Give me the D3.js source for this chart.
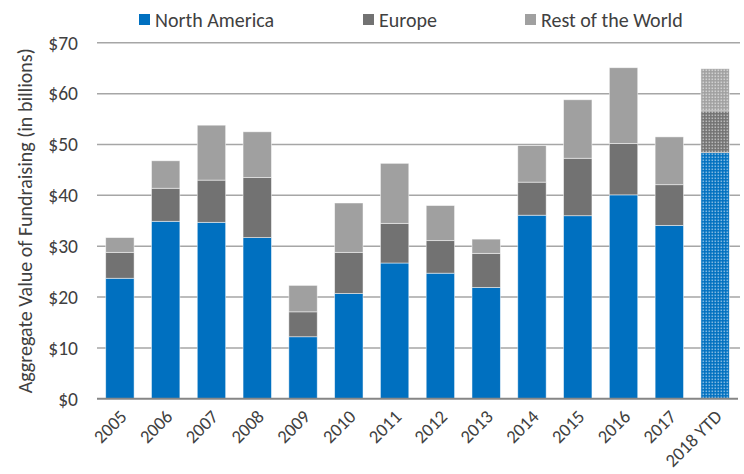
<!DOCTYPE html>
<html>
<head>
<meta charset="utf-8">
<script src="https://cdn.jsdelivr.net/npm/d3@7"></script>
<style>
  html, body { margin: 0; padding: 0; background: #fff; }
  svg { display: block; font-family: Carlito, Calibri, Lato, "Noto Sans", sans-serif; }
</style>
</head>
<body>
<svg id="chart" width="744" height="474"></svg>
<script>
// Aggregate fundraising by region, billions of USD
const years = ["2005", "2006", "2007", "2008", "2009", "2010", "2011", "2012", "2013",
               "2014", "2015", "2016", "2017", "2018 YTD"];
const northAmerica = [23.7, 34.9, 34.7, 31.7, 12.2, 20.7, 26.7, 24.7, 21.9, 36.1, 36.0, 40.1, 34.1, 48.4];
const europe       = [5.1, 6.5, 8.3, 11.8, 4.9, 8.1, 7.8, 6.4, 6.7, 6.5, 11.3, 10.1, 8.0, 8.2];
const restOfWorld  = [2.9, 5.4, 10.8, 9.0, 5.2, 9.7, 11.8, 6.9, 2.8, 7.2, 11.5, 14.9, 9.4, 8.3];
const seriesNames  = ["North America", "Europe", "Rest of the World"];
const seriesColors = ["#0070C0", "#727272", "#A0A0A0"];
const yTicks = [0, 10, 20, 30, 40, 50, 60, 70];
const partialYear = "2018 YTD";

const svg = d3.select("#chart");
const plotLeft = 97, plotRight = 738, plotTop = 42.8, plotBottom = 398.8;
const textColor = "#404040";

const rows = years.map((yr, i) => ({
  year: yr,
  "North America": northAmerica[i],
  "Europe": europe[i],
  "Rest of the World": restOfWorld[i]
}));
const stacked = d3.stack().keys(seriesNames)(rows);

const x = d3.scaleBand().domain(years).range([plotLeft, plotRight]).paddingInner(0.38).paddingOuter(0.19);
const y = d3.scaleLinear().domain([0, 70]).range([plotBottom, plotTop]);
const color = d3.scaleOrdinal().domain(seriesNames).range(seriesColors);

// dotted fill patterns for the year-to-date bar
const defs = svg.append("defs");
seriesNames.forEach((name, i) => {
  const p = defs.append("pattern")
    .attr("id", "dots" + i)
    .attr("patternUnits", "userSpaceOnUse")
    .attr("width", 3).attr("height", 3);
  p.append("rect").attr("width", 3).attr("height", 3).attr("fill", seriesColors[i]);
  p.append("rect").attr("x", 0.5).attr("y", 0.5).attr("width", 1.6).attr("height", 1.6)
    .attr("fill", "#fff").attr("opacity", 0.5);
});

// gridlines
svg.append("g")
  .selectAll("line")
  .data(yTicks.filter(t => t > 0))
  .join("line")
  .attr("x1", plotLeft).attr("x2", 740)
  .attr("y1", d => y(d)).attr("y2", d => y(d))
  .attr("stroke", "#A6A6A6").attr("stroke-width", 1.5);

// y axis labels
const yAxis = d3.axisLeft(y).tickValues(yTicks).tickFormat(d => "$" + d).tickSize(0).tickPadding(19);
svg.append("g")
  .attr("transform", `translate(${plotLeft},0)`)
  .call(yAxis)
  .call(g => g.select(".domain").remove())
  .call(g => g.selectAll("text")
    .attr("fill", textColor)
    .style("font-size", "19.5px")
    .style("font-family", "Carlito, Calibri, Lato, sans-serif"));

// stacked bars
svg.append("g")
  .selectAll("g")
  .data(stacked)
  .join("g")
  .each(function (layer, li) {
    d3.select(this).selectAll("rect")
      .data(layer)
      .join("rect")
      .attr("x", d => x(d.data.year))
      .attr("width", x.bandwidth())
      .attr("y", d => y(d[1]))
      .attr("height", d => y(d[0]) - y(d[1]))
      .attr("fill", d => d.data.year === partialYear ? `url(#dots${li})` : color(layer.key))
      .attr("stroke", "#ffffff")
      .attr("stroke-opacity", 0.6)
      .attr("stroke-width", 0.8);
  });

// baseline
svg.append("line")
  .attr("x1", plotLeft).attr("x2", plotRight)
  .attr("y1", y(0)).attr("y2", y(0))
  .attr("stroke", "#868686").attr("stroke-width", 2);

// x axis labels
const xAxis = d3.axisBottom(x).tickSize(0).tickPadding(0);
svg.append("g")
  .attr("transform", `translate(0,${y(0)})`)
  .call(xAxis)
  .call(g => g.select(".domain").remove())
  .call(g => g.selectAll("text")
    .attr("fill", textColor)
    .style("font-size", "18.5px")
    .style("font-family", "Carlito, Calibri, Lato, sans-serif")
    .attr("text-anchor", "end")
    .attr("dy", null)
    .attr("y", 0)
    .attr("transform", "translate(8,19) rotate(-45)"));

// y axis title
svg.append("text")
  .attr("transform", `translate(25,${(plotTop + plotBottom) / 2}) rotate(-90)`)
  .attr("text-anchor", "middle")
  .attr("dy", "0.35em")
  .attr("fill", textColor)
  .style("font-size", "20px")
  .text("Aggregate Value of Fundraising (in billions)");

// legend
const legendX = [139, 363, 525];
const legend = svg.append("g")
  .selectAll("g")
  .data(seriesNames)
  .join("g")
  .attr("transform", (d, i) => `translate(${legendX[i]},14)`);
legend.append("rect").attr("width", 11).attr("height", 11).attr("fill", d => color(d));
legend.append("text")
  .attr("x", 16).attr("y", 5.5).attr("dy", "0.36em")
  .attr("fill", textColor)
  .style("font-size", "20px")
  .text(d => d);
</script>
</body>
</html>
